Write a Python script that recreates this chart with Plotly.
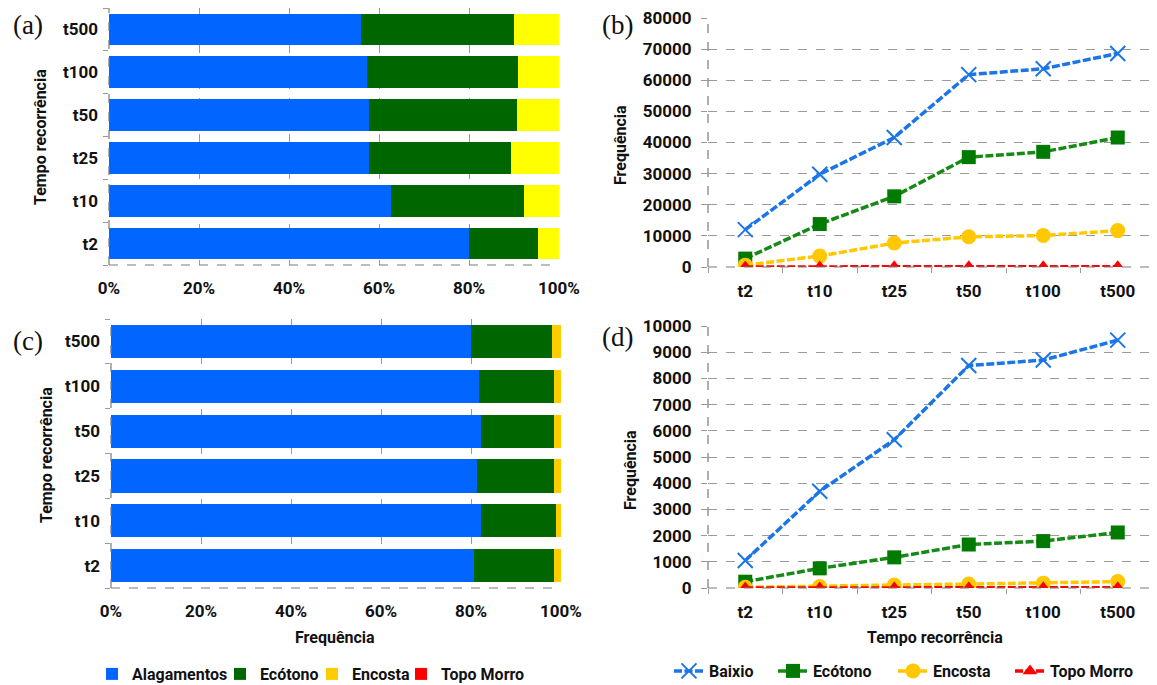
import plotly.graph_objects as go

# The page body has an 8px default margin, so the figure is drawn 8px smaller
# and all pixel positions (taken from the 1157x685 reference) are shifted by 8.
REF_W, REF_H = 1157, 685
OFF = 8
W, H = REF_W - OFF, REF_H - OFF

cats = ["t2", "t10", "t25", "t50", "t100", "t500"]

# Panel (a): percentage by class
a_alagamentos = [79.9, 62.6, 57.7, 57.7, 57.4, 56.0]
a_ecotono = [15.4, 29.7, 31.6, 33.0, 33.5, 34.1]
a_encosta = [4.7, 7.7, 10.7, 9.3, 9.1, 9.9]
a_topo = [0, 0, 0, 0, 0, 0]

# Panel (c): percentage by class
c_alagamentos = [80.6, 82.2, 81.4, 82.2, 81.8, 80.1]
c_ecotono = [17.8, 16.7, 17.0, 16.3, 16.6, 18.0]
c_encosta = [1.6, 1.1, 1.6, 1.5, 1.6, 1.9]
c_topo = [0, 0, 0, 0, 0, 0]

# Panel (b): frequency
b_baixio = [12000, 29800, 41600, 61800, 63700, 68600]
b_ecotono = [2700, 13800, 22700, 35300, 37000, 41600]
b_encosta = [600, 3500, 7700, 9700, 10100, 11700]
b_topo = [30, 40, 50, 60, 60, 70]

# Panel (d): frequency
d_baixio = [1050, 3690, 5660, 8490, 8700, 9460]
d_ecotono = [240, 750, 1170, 1660, 1790, 2120]
d_encosta = [25, 55, 115, 150, 185, 245]
d_topo = [3, 4, 5, 6, 6, 7]

pct_ticks = [0, 0.2, 0.4, 0.6, 0.8, 1.0]
pct_labels = ["0%", "20%", "40%", "60%", "80%", "100%"]
b_ticks = [0, 10000, 20000, 30000, 40000, 50000, 60000, 70000, 80000]
d_ticks = [0, 1000, 2000, 3000, 4000, 5000, 6000, 7000, 8000, 9000, 10000]

bar_names = ["Alagamentos", "Ecótono", "Encosta", "Topo Morro"]
line_names = ["Baixio", "Ecótono", "Encosta", "Topo Morro"]

BLUE, GREEN, YELLOW, GOLD, RED = "#0066FF", "#006600", "#FFFF00", "#FFCC00", "#FF0000"
L_BLUE, L_GREEN, L_GOLD, L_RED = "#1A75E8", "#158A15", "#FFC800", "#FF0000"
FONT = "Roboto"
INK = "#111111"
GRID = "#9A9A9A"


def B(s):
    return f"<b>{s}</b>"


def px_x(v):
    return min(1.0, max(0.0, (v - OFF) / W))


def px_y(v):
    return min(1.0, max(0.0, 1 - (v - OFF) / H))


fig = go.Figure()

# separate legend per item so each entry sits where the original puts it
bar_leg = ["legend", "legend2", "legend3", "legend4"]
line_leg = ["legend5", "legend6", "legend7", "legend8"]


def add_bars(xa, ya, vals, colors, show):
    for v, n, c, lg in zip(vals, bar_names, colors, bar_leg):
        fig.add_trace(go.Bar(
            y=cats, x=[x / 100 for x in v], name=B(n), orientation="h",
            marker=dict(color=c, line=dict(width=0)),
            xaxis=xa, yaxis=ya, showlegend=show, legend=lg,
        ))


add_bars("x", "y", [a_alagamentos, a_ecotono, a_encosta, a_topo],
         [BLUE, GREEN, YELLOW, RED], False)
add_bars("x3", "y3", [c_alagamentos, c_ecotono, c_encosta, c_topo],
         [BLUE, GREEN, GOLD, RED], True)


def add_lines(xa, ya, series, show):
    specs = [
        (L_BLUE, "x-thin", 15, L_BLUE),
        (L_GREEN, "square", 14, "#007A00"),
        (L_GOLD, "circle", 15, L_GOLD),
        (L_RED, "triangle-up", 13, L_RED),
    ]
    for s, n, (c, sym, sz, mc), lg in zip(series, line_names, specs, line_leg):
        mk = dict(symbol=sym, size=sz, color=mc)
        if sym == "x-thin":
            mk["line"] = dict(color=c, width=2)
        fig.add_trace(go.Scatter(
            x=cats, y=s, name=B(n), mode="lines+markers",
            line=dict(color=c, width=3.5, dash="8px,2.5px"),
            marker=mk, xaxis=xa, yaxis=ya, showlegend=show, legend=lg,
        ))


add_lines("x2", "y2", [b_baixio, b_ecotono, b_encosta, b_topo], False)
add_lines("x4", "y4", [d_baixio, d_ecotono, d_encosta, d_topo], True)

tickfont = dict(family=FONT, size=17, color=INK)
cat_text = [B(c) for c in cats]

bar_x = dict(range=[0, 1], tickvals=pct_ticks, ticktext=[B(t) for t in pct_labels],
             showgrid=True, gridcolor=GRID, griddash="dash", gridwidth=1,
             zeroline=False, showline=False, tickfont=tickfont, ticks="",
             ticklabelstandoff=11, automargin=False, ticklabeloverflow="allow")
bar_y = dict(type="category", showgrid=False, tickfont=tickfont, ticks="outside",
             tickson="boundaries", ticklen=5, tickcolor=GRID, showline=False,
             zeroline=False, tickvals=cats, ticktext=cat_text,
             ticklabelstandoff=10, automargin=False, ticklabeloverflow="allow")

line_x = dict(type="category", showgrid=False, tickfont=tickfont, ticks="outside",
              tickson="boundaries", ticklen=5, tickcolor=GRID, showline=False,
              zeroline=False, range=[-0.5, 5.5], tickvals=cats, ticktext=cat_text,
              ticklabelstandoff=12, automargin=False, ticklabeloverflow="allow")
line_y = dict(showgrid=True, gridcolor=GRID, griddash="dash", gridwidth=1,
              zeroline=False, showline=False, tickfont=tickfont, ticks="outside",
              ticklen=6, tickcolor=GRID, ticklabelstandoff=6, automargin=False,
              ticklabeloverflow="allow")

layout = dict(
    width=W, height=H, margin=dict(l=0, r=0, t=0, b=0, pad=0, autoexpand=False),
    paper_bgcolor="white", plot_bgcolor="white",
    barmode="stack", bargap=0.26,
    font=dict(family=FONT, size=16, color=INK),
    xaxis=dict(bar_x, domain=[px_x(109), px_x(559)], anchor="y"),
    yaxis=dict(bar_y, domain=[px_y(265), px_y(8)], anchor="x"),
    xaxis3=dict(bar_x, domain=[px_x(111), px_x(561)], anchor="y3"),
    yaxis3=dict(bar_y, domain=[px_y(588), px_y(319)], anchor="x3"),
    xaxis2=dict(line_x, domain=[px_x(708), px_x(1155)], anchor="y2"),
    yaxis2=dict(line_y, domain=[px_y(267), px_y(18)], anchor="x2",
                range=[0, 80000], tickvals=b_ticks,
                ticktext=[B(f"{t}") for t in b_ticks]),
    xaxis4=dict(line_x, domain=[px_x(708), px_x(1155)], anchor="y4"),
    yaxis4=dict(line_y, domain=[px_y(588), px_y(326)], anchor="x4",
                range=[0, 10000], tickvals=d_ticks,
                ticktext=[B(f"{t}") for t in d_ticks]),
)

# legend item positions (left of text, in reference pixels)
for lg, tx in zip(bar_leg, [132, 260, 352, 441]):
    layout[lg] = dict(orientation="h", x=px_x(tx - 40), y=px_y(674), xanchor="left",
                      yanchor="middle", font=dict(family=FONT, size=16, color=INK),
                      itemwidth=30, bgcolor="rgba(0,0,0,0)", borderwidth=0)
for lg, tx in zip(line_leg, [709, 813, 933, 1050]):
    layout[lg] = dict(orientation="h", x=px_x(tx - 40), y=px_y(671), xanchor="left",
                      yanchor="middle", font=dict(family=FONT, size=16, color=INK),
                      itemwidth=30, bgcolor="rgba(0,0,0,0)", borderwidth=0)
fig.update_layout(**layout)

# dashed axis lines
shapes = []
for xa, ya in [("x", "y"), ("x3", "y3"), ("x2", "y2"), ("x4", "y4")]:
    shapes.append(dict(type="line", xref=f"{xa} domain", yref=f"{ya} domain",
                       x0=0, x1=0, y0=0, y1=1,
                       line=dict(color="#7A7A7A", width=1.2, dash="dash")))
    shapes.append(dict(type="line", xref=f"{xa} domain", yref=f"{ya} domain",
                       x0=0, x1=1, y0=0, y1=0,
                       line=dict(color="#7A7A7A", width=1.2, dash="dash")))
fig.update_layout(shapes=shapes)

ann = []
for txt, x, y in [("(a)", 28, 25), ("(b)", 617, 25), ("(c)", 28, 341), ("(d)", 617, 337)]:
    ann.append(dict(text=txt, x=px_x(x), y=px_y(y), xref="paper", yref="paper",
                    showarrow=False, xanchor="center", yanchor="middle",
                    font=dict(family="Liberation Serif", size=27, color=INK)))
title_font = dict(family=FONT, size=16, color=INK)
for txt, x, y, rot in [("Tempo recorrência", 40, 137, -90),
                       ("Tempo recorrência", 46, 455, -90),
                       ("Frequência", 621, 145, -90),
                       ("Frequência", 630, 470, -90),
                       ("Frequência", 335, 637, 0),
                       ("Tempo recorrência", 935, 637, 0)]:
    ann.append(dict(text=B(txt), x=px_x(x), y=px_y(y), xref="paper", yref="paper",
                    showarrow=False, xanchor="center", yanchor="middle",
                    textangle=rot, font=title_font))
fig.update_layout(annotations=ann)

fig.write_html("out.html")
